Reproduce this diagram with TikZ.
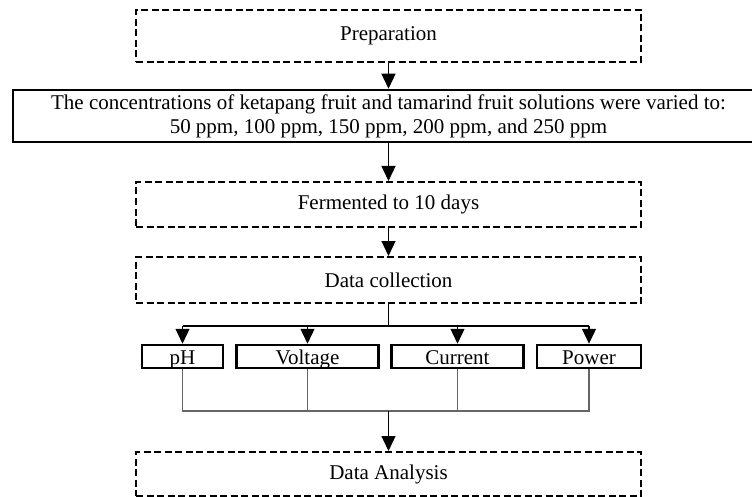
\documentclass[tikz,border=0pt]{standalone}
\usepackage{fontspec}
\setmainfont{Liberation Serif}
\usetikzlibrary{arrows.meta}
\begin{document}
\begin{tikzpicture}[x=1pt,y=-1pt,
  dashbox/.style={draw=black, line width=2pt, dash pattern=on 7pt off 3.5pt, minimum width=505pt, inner sep=0pt, font=\fontsize{21}{24}\selectfont},
  solidbox/.style={draw=black, line width=2.5pt, inner sep=0pt, font=\fontsize{21}{24}\selectfont},
  smallbox/.style={solidbox, minimum height=23pt, text height=17pt, text depth=1pt},
  conn/.style={line width=1.3pt, draw=black},
  gconn/.style={line width=1.3pt, draw=black!60},
  arr/.style={conn, -{Triangle[length=15pt,width=14pt]}}
]
\useasboundingbox (0,0) rectangle (752,497);
\node[dashbox, minimum height=52pt] (prep) at (388.5,36) {Preparation};
\node[solidbox, minimum width=751pt, minimum height=52pt, align=center] (conc) at (388.5,116)
  {The concentrations of ketapang fruit and tamarind fruit solutions were varied to:\\
   50 ppm, 100 ppm, 150 ppm, 200 ppm, and 250 ppm};
\node[dashbox, minimum height=45pt] (ferm) at (388.5,204.5) {Fermented to 10 days};
\node[dashbox, minimum height=46pt] (dc) at (388.5,280) {Data collection};
\node[smallbox, minimum width=81pt] (ph) at (182.5,356.5) {pH};
\node[smallbox, minimum width=142pt] (volt) at (307.5,356.5) {Voltage};
\node[smallbox, minimum width=132pt] (curr) at (457.5,356.5) {Current};
\node[smallbox, minimum width=104pt] (pow) at (589,356.5) {Power};
\node[dashbox, minimum height=44pt] (da) at (388.5,474) {Data Analysis};
\coordinate (br) at (388.5,326);
\coordinate (jn) at (388.5,411);

\draw[arr] (prep.south) -- (conc.north);
\draw[arr] (conc.south) -- (ferm.north);
\draw[arr] (ferm.south) -- (dc.north);
\draw[conn] (dc.south) -- (br);
\draw[conn] (ph.north |- br) -- (pow.north |- br);
\draw[arr] (ph.north |- br) -- (ph.north);
\draw[arr] (volt.north |- br) -- (volt.north);
\draw[arr] (curr.north |- br) -- (curr.north);
\draw[arr] (pow.north |- br) -- (pow.north);
\draw[gconn] (ph.south) -- (ph.south |- jn) -- (pow.south |- jn) -- (pow.south);
\draw[gconn] (volt.south) -- (volt.south |- jn);
\draw[gconn] (curr.south) -- (curr.south |- jn);
\draw[arr] (jn) -- (da.north);
\end{tikzpicture}
\end{document}
